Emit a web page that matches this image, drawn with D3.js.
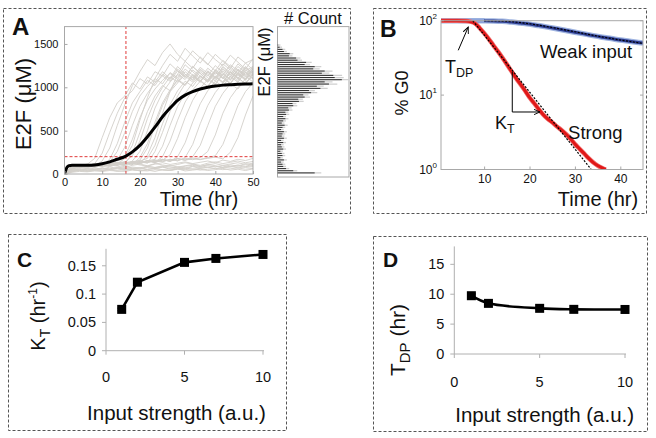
<!DOCTYPE html>
<html><head><meta charset="utf-8">
<script src="https://cdn.jsdelivr.net/npm/d3@7"></script>
<style>body{margin:0;background:#fff}svg{display:block}text{font-family:"Liberation Sans",Arial,sans-serif;fill:#111}</style>
</head><body>
<svg id="c" width="656" height="438"></svg>
<script>
// ---------------- Panel A data ----------------
const trajTime = d3.range(0, 51, 2);
const trajRising = [
 [0,80,90,110,180,420,650,820,900,1050,980,1120,1060,1180,1100,1240,1150,1080,1200,1130,1250,1170,1090,1210,1150,1230],
 [0,70,95,100,120,240,480,700,880,960,1100,1040,1180,1130,1270,1190,1110,1240,1160,1080,1200,1140,1260,1190,1120,1210],
 [0,90,80,110,95,150,300,560,800,1020,1180,1320,1250,1400,1500,1380,1300,1420,1340,1260,1380,1300,1220,1350,1280,1320],
 [0,60,85,90,110,100,170,350,600,820,950,1080,1020,1150,1090,1210,1130,1060,1180,1110,1040,1160,1090,1200,1140,1180],
 [0,75,100,95,120,105,140,260,480,720,900,1010,1100,1040,1170,1110,1260,1180,1100,1220,1150,1270,1200,1130,1240,1160],
 [0,85,70,100,90,115,100,160,310,560,780,930,1050,1130,1070,1190,1120,1240,1160,1080,1200,1130,1050,1170,1100,1220],
 [0,65,90,80,105,95,120,110,200,400,650,850,980,1080,1160,1090,1210,1140,1060,1180,1110,1240,1170,1100,1220,1150],
 [0,80,95,115,100,90,125,110,180,330,620,880,1100,1250,1380,1300,1450,1360,1280,1400,1320,1250,1370,1290,1210,1330],
 [0,70,85,100,95,110,100,130,115,240,480,720,900,1020,960,1090,1030,1150,1080,1010,1130,1060,1180,1110,1040,1160],
 [0,90,75,95,110,100,120,105,135,210,380,640,850,1000,1120,1060,1180,1110,1230,1160,1090,1210,1140,1270,1190,1240],
 [0,60,80,95,85,105,95,115,100,150,260,500,760,940,1060,1150,1090,1200,1130,1060,1170,1100,1220,1150,1080,1190],
 [0,75,100,90,110,95,120,100,125,110,190,350,600,820,970,1080,1020,1140,1070,1190,1120,1050,1170,1100,1230,1160],
 [0,85,80,105,95,120,105,130,110,140,160,300,560,790,950,1050,1150,1090,1210,1140,1070,1190,1120,1240,1170,1100],
 [0,70,95,85,100,115,100,125,110,135,120,220,420,700,950,1150,1300,1220,1350,1270,1190,1310,1240,1160,1280,1200],
 [0,80,90,100,115,100,125,110,140,120,150,180,330,580,800,960,1070,1010,1130,1060,1180,1110,1040,1160,1090,1210],
 [0,65,85,95,105,90,115,100,130,115,140,125,260,480,720,900,1040,1120,1060,1180,1100,1230,1150,1080,1200,1130],
 [0,90,80,100,95,110,125,105,120,135,115,150,170,320,560,780,930,1050,1130,1070,1190,1110,1040,1160,1090,1220],
 [0,75,90,85,110,100,120,130,110,140,125,155,135,200,380,620,830,970,1070,1010,1120,1060,1180,1110,1040,1150],
 [0,60,85,100,90,115,100,125,140,115,135,150,130,160,220,410,650,850,990,1090,1030,1150,1080,1200,1130,1060],
 [0,80,95,90,105,120,100,130,115,140,125,150,135,165,145,200,360,600,810,960,1070,1010,1130,1060,1180,1100],
 [0,70,80,100,95,110,125,105,135,120,145,130,160,140,170,150,190,340,580,790,940,1050,1120,1060,1170,1100],
 [0,85,90,95,110,100,120,135,115,140,130,155,140,165,150,175,160,200,330,560,780,930,1040,980,1100,1150],
 [0,65,95,85,100,115,105,125,140,120,150,135,160,145,170,155,180,165,190,260,450,700,880,1000,1060,1120],
 [0,75,85,100,110,95,120,110,130,145,125,150,140,165,155,180,160,175,165,190,210,340,560,790,950,1050],
 [0,80,90,95,105,120,100,130,115,140,150,130,155,170,145,175,160,185,170,180,195,175,250,420,680,900]
];
const trajLow = [
 [0,40,60,50,70,55,80,65,90,70,60,85,75,95,80,70,90,100,85,110,95,80,105,90,120,100],
 [0,30,45,35,50,40,55,45,60,50,40,55,65,50,45,60,70,55,65,80,60,75,90,70,85,95],
 [0,50,70,90,75,100,85,110,95,120,105,90,115,130,110,125,140,120,135,150,130,160,145,170,155,180],
 [0,20,30,25,35,30,40,35,30,45,40,35,50,45,40,55,50,60,45,55,65,50,60,70,55,65],
 [0,60,85,70,95,80,105,90,75,100,115,95,120,105,90,110,130,115,100,125,140,120,135,150,130,145],
 [0,45,55,65,50,70,60,75,65,80,70,90,75,85,100,80,95,110,90,105,120,100,115,130,110,125],
 [0,35,50,40,60,45,55,70,50,65,55,75,60,80,65,85,70,90,75,95,80,100,85,105,90,110],
 [0,55,40,60,45,65,50,70,55,60,75,50,65,80,55,70,60,85,65,75,90,70,80,95,75,85],
 [0,25,40,30,45,35,50,30,40,55,35,45,30,50,40,60,35,45,55,40,50,65,45,55,40,60]
];
const meanTime  = [0,0.3,0.7,1.2,2,4,6,8,10,12,14,16,18,20,22,24,26,28,30,32,34,36,38,40,42,44,46,48,50];
const meanE2F   = [0,40,80,95,100,100,101,105,118,140,170,200,255,330,430,540,660,760,850,910,950,980,1000,1015,1025,1030,1034,1037,1040];
const thresholdTime = 16.3;
const thresholdE2F = 200;
const aXTicks = [0,10,20,30,40,50];
const aYTicks = [0,500,1000,1500];

const histBinWidth = 25;
const histCounts = [52,22,12,8,7,5,9,4,7,6,4,8,6,5,8,5,9,6,7,9,5,7,10,6,8,11,8,12,11,16,15,22,21,30,29,38,36,47,44,60,55,72,66,90,80,78,62,66,50,52,38,40,28,26,16,17,9,7,3,1];
const histE2F = histCounts.map((c, i) => i * histBinWidth + histBinWidth / 2);

// ---------------- Panel B data ----------------
const strongTime = [0.5,2,4,6,7,8,9,10,11,12,13,14,15,16,17,18,19,20,21,22,23,24,25,26,27,28,29,30,31,32,33,34,35,36,36.8];
const strongPct  = [100,100,100,99,97,92,80,68,57,47,39,32,26,21,17,14,11.5,9.3,7.8,6.5,5.5,4.8,4.3,3.8,3.4,3.0,2.6,2.2,1.9,1.65,1.42,1.25,1.13,1.05,1.0];
const weakTime = [0.5,5,10,12,14,16,18,20,22,24,26,28,30,32,34,36,38,40,42,44,45];
const weakPct  = [100,100,99.5,99,98,96,93,90,86,82,78,74,70,66.5,63,60,57.5,55,53,51,50];
const fitStrongTime = [7.5,33.6];
const fitStrongPct  = [100,1];
const fitWeakTime = [10,15,20,25,30,35,40,45];
const fitWeakPct  = [100,98,91,81,71,62,55,49.5];
const bXTicks = [10,20,30,40];
const bYTicks = [1,10,100];

// ---------------- Panels C, D data ----------------
const inputStrength = [1,2,5,7,10];
const kT    = [0.073,0.121,0.156,0.163,0.170];
const kTErr = [0.002,0.002,0.004,0.004,0.005];
const tDP    = [9.75,8.47,7.64,7.47,7.45];
const tDPErr = [0.3,0.15,0.15,0.15,0.15];
const cYTicks = [0,0.05,0.1,0.15];
const dYTicks = [0,5,10,15];
const cdXTicks = [0,5,10];

const svg = d3.select("#c");
svg.append("rect").attr("width",656).attr("height",438).attr("fill","#fff");
const defs = svg.append("defs");

// dashed panel boxes
[[3.5,8.5,347,205],[373.5,8.5,273,205],[8.5,234.5,278,196],[373.5,236.5,274,195]].forEach(b=>{
  svg.append("rect").attr("x",b[0]).attr("y",b[1]).attr("width",b[2]).attr("height",b[3])
    .attr("fill","none").attr("stroke","#555").attr("stroke-width",1).attr("stroke-dasharray","3,2");
});
function label(txt,x,y,s){svg.append("text").attr("x",x).attr("y",y).attr("font-weight","bold").attr("font-size",s).text(txt);}
label("A",12,35,24); label("B",380,37,23); label("C",17,267,21); label("D",383,267,21);

const frameCol = "#a8a8a8";

// ---------------- Panel A ----------------
const ax = d3.scaleLinear().domain([0,50]).range([64.5,253]);
const ay = d3.scaleLinear().domain([0,1700]).range([174,26.6]);
defs.append("clipPath").attr("id","clipA").append("rect")
  .attr("x",64.5).attr("y",26.6).attr("width",253-64.5).attr("height",174-26.6);
const gA = svg.append("g");
const plotA = gA.append("g").attr("clip-path","url(#clipA)");
const trajLine = d3.line().x((d,i)=>ax(trajTime[i])).y(d=>ay(d));
trajLow.concat(trajRising).forEach(tr=>{
  plotA.append("path").attr("d",trajLine(tr)).attr("fill","none").attr("stroke","#d3cfca").attr("stroke-width",0.9);
});
plotA.append("line").attr("x1",ax(0)).attr("x2",ax(50)).attr("y1",ay(thresholdE2F)).attr("y2",ay(thresholdE2F))
  .attr("stroke","#e03a3a").attr("stroke-width",1).attr("stroke-dasharray","3,2");
plotA.append("line").attr("x1",ax(thresholdTime)).attr("x2",ax(thresholdTime)).attr("y1",ay(0)).attr("y2",ay(1700))
  .attr("stroke","#e03a3a").attr("stroke-width",1).attr("stroke-dasharray","3,2");
plotA.append("path").datum(meanTime.map((t,i)=>[t,meanE2F[i]]))
  .attr("d",d3.line().x(d=>ax(d[0])).y(d=>ay(d[1])).curve(d3.curveMonotoneX))
  .attr("fill","none").attr("stroke","#000").attr("stroke-width",3);
gA.append("rect").attr("x",64.5).attr("y",26.6).attr("width",253-64.5).attr("height",174-26.6)
  .attr("fill","none").attr("stroke",frameCol);
const axA = gA.append("g").attr("transform","translate(0,174)")
  .call(d3.axisBottom(ax).tickValues(aXTicks).tickFormat(d3.format("d")).tickSize(-3).tickPadding(4));
const ayA = gA.append("g").attr("transform","translate(64.5,0)")
  .call(d3.axisLeft(ay).tickValues(aYTicks).tickFormat(d3.format("d")).tickSize(-3).tickPadding(6));
[axA,ayA].forEach(g=>{g.select(".domain").remove();g.selectAll("line").attr("stroke",frameCol);
  g.selectAll("text").attr("font-size",11).attr("fill","#222").style("font-family","Liberation Sans, Arial");});
svg.append("text").attr("transform","translate(31,104) rotate(-90)").attr("text-anchor","middle").attr("font-size",22).text("E2F (\u03bcM)");
svg.append("text").attr("x",199).attr("y",206).attr("text-anchor","middle").attr("font-size",19.5).text("Time (hr)");

// histogram
const hx = d3.scaleLinear().domain([0,100]).range([277.5,349]);
const hy = d3.scaleLinear().domain([0,1700]).range([174,26.6]);
const gH = svg.append("g");
gH.append("rect").attr("x",277.5).attr("y",26.6).attr("width",349-277.5).attr("height",177-26.6).attr("fill","#fff").attr("stroke",frameCol);
gH.selectAll("line.halo").data(histCounts).join("line").attr("class","halo")
  .attr("x1",hx(0)).attr("x2",d=>hx(Math.min(100,d*1.12+3))).attr("y1",(d,i)=>hy(histE2F[i])).attr("y2",(d,i)=>hy(histE2F[i]))
  .attr("stroke","#cfcfcf").attr("stroke-width",1.3);
gH.selectAll("line.bar").data(histCounts).join("line").attr("class","bar")
  .attr("x1",hx(0)).attr("x2",d=>hx(d)).attr("y1",(d,i)=>hy(histE2F[i])).attr("y2",(d,i)=>hy(histE2F[i]))
  .attr("stroke","#1a1a1a").attr("stroke-width",0.9);
svg.append("text").attr("x",313).attr("y",24).attr("text-anchor","middle").attr("font-size",16.5).text("# Count");
svg.append("text").attr("transform","translate(270,62) rotate(-90)").attr("text-anchor","middle").attr("font-size",16.5).text("E2F (\u03bcM)");

// ---------------- Panel B ----------------
const bx = d3.scaleLinear().domain([0.5,45]).range([441,643]);
const by = d3.scaleLog().domain([1,100]).range([169.5,20.7]);
const gB = svg.append("g");
defs.append("clipPath").attr("id","clipB").append("rect").attr("x",441).attr("y",18).attr("width",202).attr("height",152);
const plotB = gB.append("g").attr("clip-path","url(#clipB)");
const lineB = d3.line().x(d=>bx(d[0])).y(d=>by(d[1])).curve(d3.curveMonotoneX);
const weakData = weakTime.map((t,i)=>[t,weakPct[i]]);
plotB.append("path").attr("d",lineB(weakData)).attr("fill","none").attr("stroke","#9fb4e0").attr("stroke-width",5.5);
plotB.append("path").attr("d",lineB(weakData)).attr("fill","none").attr("stroke","#2c3c90").attr("stroke-width",3);
plotB.append("path").attr("d",lineB(weakData.slice(0,3))).attr("fill","none").attr("stroke","#8fa6dc").attr("stroke-width",4);
const strongData = strongTime.map((t,i)=>[t,strongPct[i]]);
plotB.append("path").attr("d",lineB(strongData)).attr("fill","none").attr("stroke","#f07070").attr("stroke-width",4.5);
plotB.append("path").attr("d",lineB(strongData)).attr("fill","none").attr("stroke","#e01818").attr("stroke-width",3);
plotB.append("path").attr("d",d3.line().x(d=>bx(d[0])).y(d=>by(d[1]))(fitStrongTime.map((t,i)=>[t,fitStrongPct[i]])))
  .attr("fill","none").attr("stroke","#000").attr("stroke-width",1.2).attr("stroke-dasharray","2,1.5");
plotB.append("path").attr("d",lineB(fitWeakTime.map((t,i)=>[t,fitWeakPct[i]])))
  .attr("fill","none").attr("stroke","#000").attr("stroke-width",1.2).attr("stroke-dasharray","2,1.5");
gB.append("rect").attr("x",441).attr("y",20.7).attr("width",202).attr("height",169.5-20.7).attr("fill","none").attr("stroke",frameCol);
const bxA = gB.append("g").attr("transform","translate(0,169.5)").call(d3.axisBottom(bx).tickValues(bXTicks).tickSize(-3).tickPadding(5));
bxA.select(".domain").remove(); bxA.selectAll("line").attr("stroke",frameCol);
bxA.selectAll("text").attr("font-size",12).attr("fill","#222").style("font-family","Liberation Sans, Arial");
const byA = gB.append("g");
bYTicks.forEach(v=>{
  byA.append("line").attr("x1",441).attr("x2",444).attr("y1",by(v)).attr("y2",by(v)).attr("stroke",frameCol);
  byA.append("line").attr("x1",640).attr("x2",643).attr("y1",by(v)).attr("y2",by(v)).attr("stroke",frameCol);
  const t = byA.append("text").attr("x",437).attr("y",by(v)+4).attr("text-anchor","end").attr("font-size",12).attr("fill","#222");
  t.append("tspan").text("10");
  t.append("tspan").attr("dy",-6).attr("font-size",8).text(String(Math.round(Math.log10(v))));
});
svg.append("text").attr("transform","translate(408,93) rotate(-90)").attr("text-anchor","middle").attr("font-size",18).text("% G0");
svg.append("text").attr("x",598).attr("y",206).attr("text-anchor","middle").attr("font-size",20).text("Time (hr)");
// annotations (data units)
defs.append("marker").attr("id","ah").attr("viewBox","0 0 10 10").attr("refX",9).attr("refY",5)
  .attr("markerWidth",7).attr("markerHeight",7).attr("orient","auto")
  .append("path").attr("d","M0,1 L9,5 L0,9").attr("fill","none").attr("stroke","#000").attr("stroke-width",1.3);
gB.append("line").attr("x1",bx(4.3)).attr("y1",by(40)).attr("x2",bx(6.5)).attr("y2",by(82))
  .attr("stroke","#000").attr("stroke-width",1).attr("marker-end","url(#ah)");
gB.append("path").attr("d",`M${bx(16.2)},${by(20.5)} L${bx(16.2)},${by(5.93)} L${bx(22.3)},${by(5.93)}`)
  .attr("fill","none").attr("stroke","#000").attr("stroke-width",1).attr("marker-end","url(#ah)");
const tdp = gB.append("text").attr("x",bx(1.4)).attr("y",by(19.9)).attr("font-size",18);
tdp.append("tspan").text("T"); tdp.append("tspan").attr("dy",4).attr("font-size",12.5).text("DP");
const ktt = gB.append("text").attr("x",bx(12.4)).attr("y",by(3.54)).attr("font-size",18);
ktt.append("tspan").text("K"); ktt.append("tspan").attr("dy",4).attr("font-size",12.5).text("T");
gB.append("text").attr("x",bx(22.3)).attr("y",by(31.4)).attr("font-size",18.5).text("Weak input");
gB.append("text").attr("x",bx(28.5)).attr("y",by(2.6)).attr("font-size",18.5).text("Strong");

// ---------------- Panels C & D ----------------
function excelPanel(cfg){
  const x = d3.scaleLinear().domain([0,10]).range([cfg.x0,cfg.x1]);
  const y = d3.scaleLinear().domain(cfg.yDom).range([cfg.y0,cfg.y1]);
  const g = svg.append("g");
  g.append("line").attr("x1",cfg.x0).attr("x2",cfg.x0).attr("y1",cfg.y0).attr("y2",cfg.y1).attr("stroke","#b0b0b0");
  g.append("line").attr("x1",cfg.x0).attr("x2",cfg.x1+1).attr("y1",cfg.y0).attr("y2",cfg.y0).attr("stroke","#b0b0b0");
  cfg.yTicks.forEach(v=>{
    g.append("line").attr("x1",cfg.x0-4).attr("x2",cfg.x0).attr("y1",y(v)).attr("y2",y(v)).attr("stroke","#b0b0b0");
    g.append("text").attr("x",cfg.x0-10).attr("y",y(v)).attr("dy","0.35em").attr("text-anchor","end")
      .attr("font-size",14.5).attr("fill","#222").text(cfg.fmt(v));
  });
  cdXTicks.forEach(v=>{
    g.append("line").attr("x1",x(v)).attr("x2",x(v)).attr("y1",cfg.y0).attr("y2",cfg.y0+4).attr("stroke","#b0b0b0");
    g.append("text").attr("x",x(v)).attr("y",cfg.xLabY).attr("text-anchor","middle").attr("font-size",14.5).attr("fill","#222").text(v);
  });
  const pts = inputStrength.map((s,i)=>[s,cfg.vals[i],cfg.errs[i]]);
  g.append("path").attr("d",d3.line().x(d=>x(d[0])).y(d=>y(d[1])).curve(cfg.curve)(pts))
    .attr("fill","none").attr("stroke","#000").attr("stroke-width",2.6);
  pts.forEach(d=>{
    g.append("line").attr("x1",x(d[0])).attr("x2",x(d[0])).attr("y1",y(d[1]-d[2])).attr("y2",y(d[1]+d[2])).attr("stroke","#000").attr("stroke-width",1.5);
    g.append("line").attr("x1",x(d[0])-4).attr("x2",x(d[0])+4).attr("y1",y(d[1]+d[2])).attr("y2",y(d[1]+d[2])).attr("stroke","#000").attr("stroke-width",1.5);
    g.append("line").attr("x1",x(d[0])-4).attr("x2",x(d[0])+4).attr("y1",y(d[1]-d[2])).attr("y2",y(d[1]-d[2])).attr("stroke","#000").attr("stroke-width",1.5);
    g.append("rect").attr("x",x(d[0])-4.5).attr("y",y(d[1])-4.5).attr("width",9).attr("height",9).attr("fill","#000");
  });
  g.append("text").attr("x",(cfg.x0+cfg.x1)/2 + cfg.xTitleShift).attr("y",cfg.titleY).attr("text-anchor","middle").attr("font-size",20.5).text("Input strength (a.u.)");
  return g;
}
excelPanel({x0:106,x1:263,y0:350.7,y1:248.8,yDom:[0,0.18],yTicks:cYTicks,fmt:v=>v===0?"0":String(v),
  vals:kT,errs:kTErr,curve:d3.curveLinear,xLabY:382,titleY:420,xTitleShift:-8});
excelPanel({x0:454.3,x1:625,y0:354,y1:246.4,yDom:[0,18],yTicks:dYTicks,fmt:v=>String(v),
  vals:tDP,errs:tDPErr,curve:d3.curveCatmullRom,xLabY:387,titleY:422,xTitleShift:5});
const kl = svg.append("text").attr("transform","translate(45,316) rotate(-90)").attr("text-anchor","middle").attr("font-size",20);
kl.append("tspan").text("K"); kl.append("tspan").attr("dy",5).attr("font-size",14).text("T");
kl.append("tspan").attr("dy",-5).text(" (hr"); kl.append("tspan").attr("dy",-8).attr("font-size",12).text("-1");
kl.append("tspan").attr("dy",8).text(")");
const tl = svg.append("text").attr("transform","translate(405,340) rotate(-90)").attr("text-anchor","middle").attr("font-size",21);
tl.append("tspan").text("T"); tl.append("tspan").attr("dy",5).attr("font-size",15).text("DP");
tl.append("tspan").attr("dy",-5).text(" (hr)");
</script>
</body></html>
